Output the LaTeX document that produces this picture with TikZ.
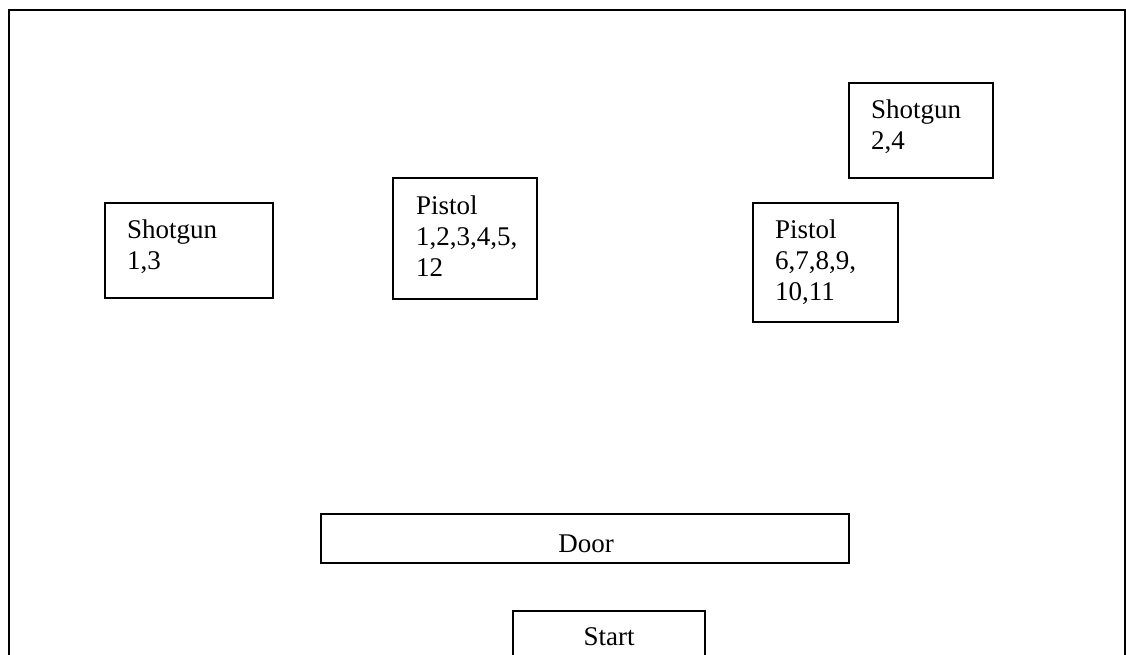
\documentclass[tikz,border=0pt]{standalone}
\usepackage{fontspec}
\setmainfont{Liberation Serif}
\tikzset{
  x=1pt,y=-1pt,
  frame/.style={draw=black,line width=1.6pt},
  box/.style={draw=black,line width=1.6pt,inner sep=0pt,anchor=north west},
  txt/.style={inner sep=0pt,anchor=base west,font=\fontsize{27}{31}\selectfont},
  ctxt/.style={inner sep=0pt,anchor=base,font=\fontsize{27}{31}\selectfont}
}
\begin{document}
\begin{tikzpicture}
\useasboundingbox (0,0) rectangle (1126,654);
% outer frame
\coordinate (fbl) at (9,670);
\coordinate (ftl) at (9,10);
\coordinate (ftr) at (1125,10);
\coordinate (fbr) at (1125,670);
\draw[frame] (fbl) -- (ftl) -- (ftr) -- (fbr);
% boxes
\node[box,minimum width=168pt,minimum height=95pt] (sg1) at (104,202) {};
\node[box,minimum width=144pt,minimum height=121pt] (p1) at (392,177) {};
\node[box,minimum width=144pt,minimum height=95pt] (sg2) at (848,82) {};
\node[box,minimum width=145pt,minimum height=119pt] (p2) at (752,202) {};
\node[box,minimum width=528pt,minimum height=49pt] (door) at (320,513) {};
\node[box,minimum width=192pt,minimum height=70pt] (start) at (512,610) {};
% texts
\node[txt] (sg1a) at (127,238) {Shotgun};
\node[txt] (sg1b) at (127,269) {1,3};
\node[txt] (p1a) at (416,214) {Pistol};
\node[txt] (p1b) at (416,245) {1,2,3,4,5,};
\node[txt] (p1c) at (416,276) {12};
\node[txt] (sg2a) at (871,118) {Shotgun};
\node[txt] (sg2b) at (871,149) {2,4};
\node[txt] (p2a) at (775,238) {Pistol};
\node[txt] (p2b) at (775,269) {6,7,8,9,};
\node[txt] (p2c) at (775,300) {10,11};
\node[ctxt] (doort) at (586,552) {Door};
\node[ctxt] (startt) at (609,645) {Start};
\end{tikzpicture}
\end{document}
